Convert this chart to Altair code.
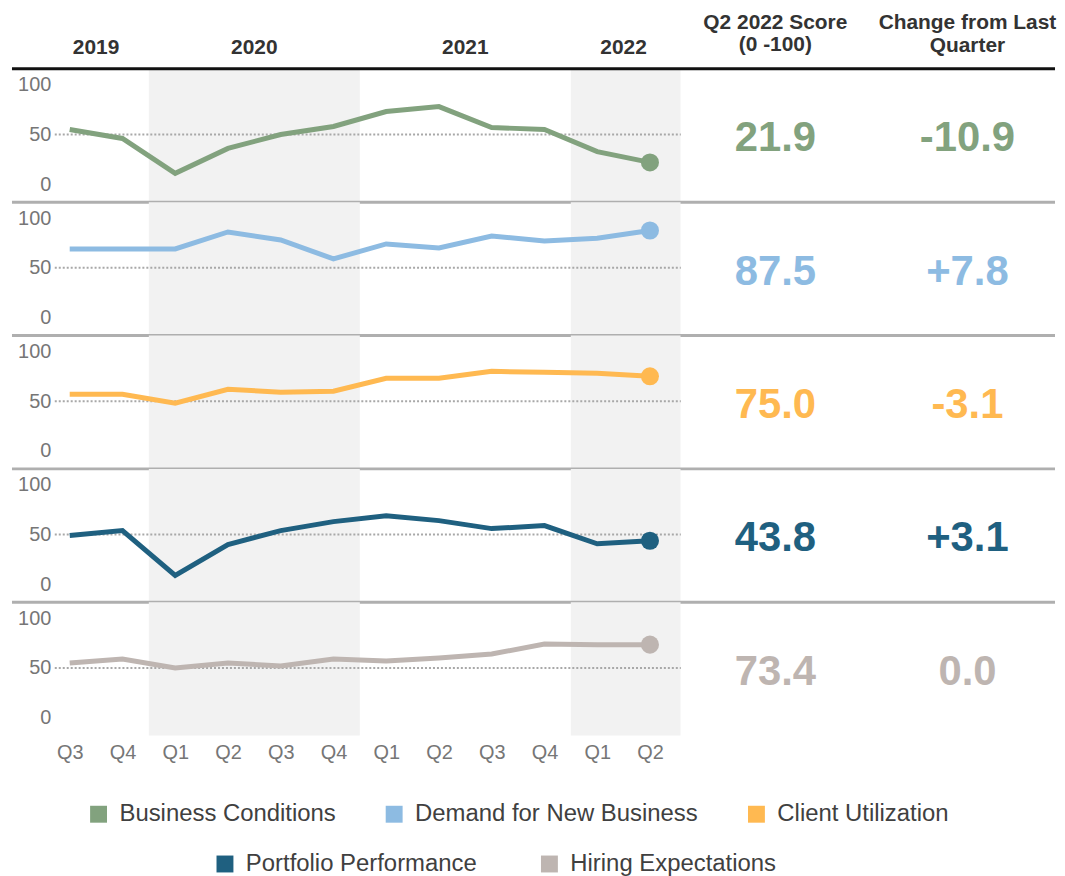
import altair as alt
import pandas as pd

# ---------------- data ----------------
quarters = ["Q3", "Q4", "Q1", "Q2", "Q3", "Q4", "Q1", "Q2", "Q3", "Q4", "Q1", "Q2"]
years = [2019, 2019, 2020, 2020, 2020, 2020, 2021, 2021, 2021, 2021, 2022, 2022]
metrics = ["Business Conditions", "Demand for New Business", "Client Utilization",
           "Portfolio Performance", "Hiring Expectations"]
colors = ["#82A27E", "#8DBBE2", "#FFB951", "#1F6080", "#BEB5B1"]

business = [55, 46, 11, 36, 50, 58, 73, 78, 57, 55, 32.8, 21.9]
demand = [69, 69, 69, 86, 78, 59, 74, 70, 82, 77, 79.7, 87.5]
client = [57, 57, 48, 62, 59, 60, 73, 73, 80, 79, 78.1, 75.0]
portfolio = [49, 54, 9, 40, 54, 63, 69, 64, 56, 59, 40.7, 43.8]
hiring = [55, 59, 50, 55, 52, 59, 57, 60, 64, 74, 73.4, 73.4]
series = [business, demand, client, portfolio, hiring]

scores = ["21.9", "87.5", "75.0", "43.8", "73.4"]
changes = ["-10.9", "+7.8", "-3.1", "+3.1", "0.0"]
shade_years = [2020, 2022]

col_header_1 = ["Q2 2022 Score", "(0 -100)"]
col_header_2 = ["Change from Last", "Quarter"]

# ---------------- layout ----------------
FONT = "Liberation Sans"
PW = 1006          # plot width (whole row incl. text columns)
PH = 134           # panel height
HEADER_H = 59
LEFT_EXT = 42      # separator lines extend left of plot area
STEP = 53
FIRST = 16
idx = list(range(len(quarters)))
x_domain = [-FIRST / STEP, (PW - FIRST) / STEP]
area_end = 11.58   # right edge of the line-chart area in index units

xscale = alt.Scale(domain=x_domain, nice=False, zero=False)
yscale = alt.Scale(domain=[-18, 116], nice=False, zero=False)

label_expr = "[" + ",".join("'%s'" % q for q in quarters) + "][datum.value]"
xaxis_bottom = alt.Axis(values=idx, labelExpr=label_expr, title=None, domain=False,
                        ticks=False, grid=False, labelFont=FONT, labelFontSize=20,
                        labelColor="#767676", labelPadding=7, labelFlush=False,
                        labelOverlap=False)
yaxis = alt.Axis(values=[0, 50, 100], title=None, domain=False, ticks=False, grid=False,
                 labelFont=FONT, labelFontSize=20, labelColor="#767676", labelPadding=3,
                 labelOverlap=False, labelFlush=False)

# shading bands
shade_rows = []
for yr in shade_years:
    ii = [i for i, y in zip(idx, years) if y == yr]
    start = min(ii) - 0.5
    end = max(ii) + 0.5 if yr != years[-1] else area_end
    shade_rows.append({"s": start, "e": end})
shade_df = pd.DataFrame(shade_rows)
one = pd.DataFrame({"a": [0]})


def panel(k):
    d = pd.DataFrame({"i": idx, "v": series[k], "q": quarters})
    xa = xaxis_bottom if k == len(series) - 1 else None
    shade = alt.Chart(shade_df).mark_rect(color="#F2F2F2").encode(
        x=alt.X("s:Q", scale=xscale, axis=xa), x2="e:Q",
        y=alt.value(0), y2=alt.value(PH))
    ref = alt.Chart(one).mark_rule(color="#A8A8A8", strokeWidth=2, strokeDash=[2, 2]).encode(
        y=alt.datum(50, scale=yscale),
        x=alt.value(1), x2=alt.value(630))
    line = alt.Chart(d).mark_line(color=colors[k], strokeWidth=5).encode(
        x=alt.X("i:Q", scale=xscale, axis=xa),
        y=alt.Y("v:Q", scale=yscale, axis=yaxis))
    dot = alt.Chart(d.iloc[[-1]]).mark_circle(color=colors[k], size=330, opacity=1).encode(
        x=alt.X("i:Q", scale=xscale, axis=xa),
        y=alt.Y("v:Q", scale=yscale, axis=yaxis))
    txt_df = pd.DataFrame({"score": [scores[k]], "chg": [changes[k]]})
    score = alt.Chart(txt_df).mark_text(font=FONT, fontSize=42, fontWeight="bold",
                                        color=colors[k], baseline="middle", align="center").encode(
        x=alt.value(725), y=alt.value(70), text="score:N")
    chg = alt.Chart(txt_df).mark_text(font=FONT, fontSize=42, fontWeight="bold",
                                      color=colors[k], baseline="middle", align="center").encode(
        x=alt.value(918), y=alt.value(70), text="chg:N")
    layers = [shade, ref, line, dot, score, chg]
    if k < len(series) - 1:
        layers.append(alt.Chart(one).mark_rule(color="#AFAFAF", strokeWidth=3).encode(
            x=alt.value(-LEFT_EXT), x2=alt.value(PW), y=alt.value(PH)))
    if k == 0:
        layers.append(alt.Chart(one).mark_rule(color="#111111", strokeWidth=3).encode(
            x=alt.value(-LEFT_EXT), x2=alt.value(PW), y=alt.value(0)))
    if k == len(series) - 1:
        common = dict(orient="none", direction="horizontal", title=None, symbolType="square",
                      symbolSize=289, symbolOpacity=1, symbolStrokeWidth=0,
                      labelFontSize=24, labelFont=FONT, labelColor="#404040",
                      labelOffset=9, padding=0, labelLimit=500)
        m1 = pd.DataFrame({"metric": metrics[:3]})
        m2 = pd.DataFrame({"metric2": metrics[3:]})
        l1 = alt.Chart(m1).mark_square(opacity=0).encode(
            x=alt.value(0), y=alt.value(0),
            color=alt.Color("metric:N", scale=alt.Scale(domain=metrics[:3], range=colors[:3]),
                            legend=alt.Legend(legendX=33, legendY=796, columnPadding=46,
                                              **common)))
        l2 = alt.Chart(m2).mark_square(opacity=0).encode(
            x=alt.value(0), y=alt.value(0),
            fill=alt.Fill("metric2:N", scale=alt.Scale(domain=metrics[3:], range=colors[3:]),
                          legend=alt.Legend(legendX=160, legendY=846, columnPadding=60,
                                            **common)))
        layers += [l1, l2]
    return alt.layer(*layers).properties(width=PW, height=PH)


# header
year_rows = []
for yr in sorted(set(years)):
    ii = [i for i, y in zip(idx, years) if y == yr]
    year_rows.append({"year": str(yr), "pos": sum(ii) / len(ii)})
year_df = pd.DataFrame(year_rows)

hdr_style = dict(font=FONT, fontSize=21, fontWeight="bold", color="#333333",
                 baseline="middle", align="center")
hdr_years = alt.Chart(year_df).mark_text(**hdr_style).encode(
    x=alt.X("pos:Q", scale=xscale, axis=None), y=alt.value(38), text="year:N")
hdr_df = pd.DataFrame({"a1": [col_header_1[0]], "a2": [col_header_1[1]],
                       "b1": [col_header_2[0]], "b2": [col_header_2[1]]})
hdr_layers = [hdr_years]
for fld, xpos, ypos in [("a1", 725, 13), ("a2", 725, 35), ("b1", 918, 13), ("b2", 918, 36)]:
    hdr_layers.append(alt.Chart(hdr_df).mark_text(**hdr_style).encode(
        x=alt.value(xpos), y=alt.value(ypos), text=f"{fld}:N"))
header = alt.layer(*hdr_layers).properties(width=PW, height=HEADER_H)

chart = alt.vconcat(header, *[panel(k) for k in range(len(series))],
                    spacing=0, bounds="flush").properties(
    padding={"left": 2, "top": 0, "right": 0, "bottom": 0}
).configure_view(stroke=None).configure_concat(spacing=0)

chart.save("out.html", embed_options={"renderer": "svg", "actions": False})
